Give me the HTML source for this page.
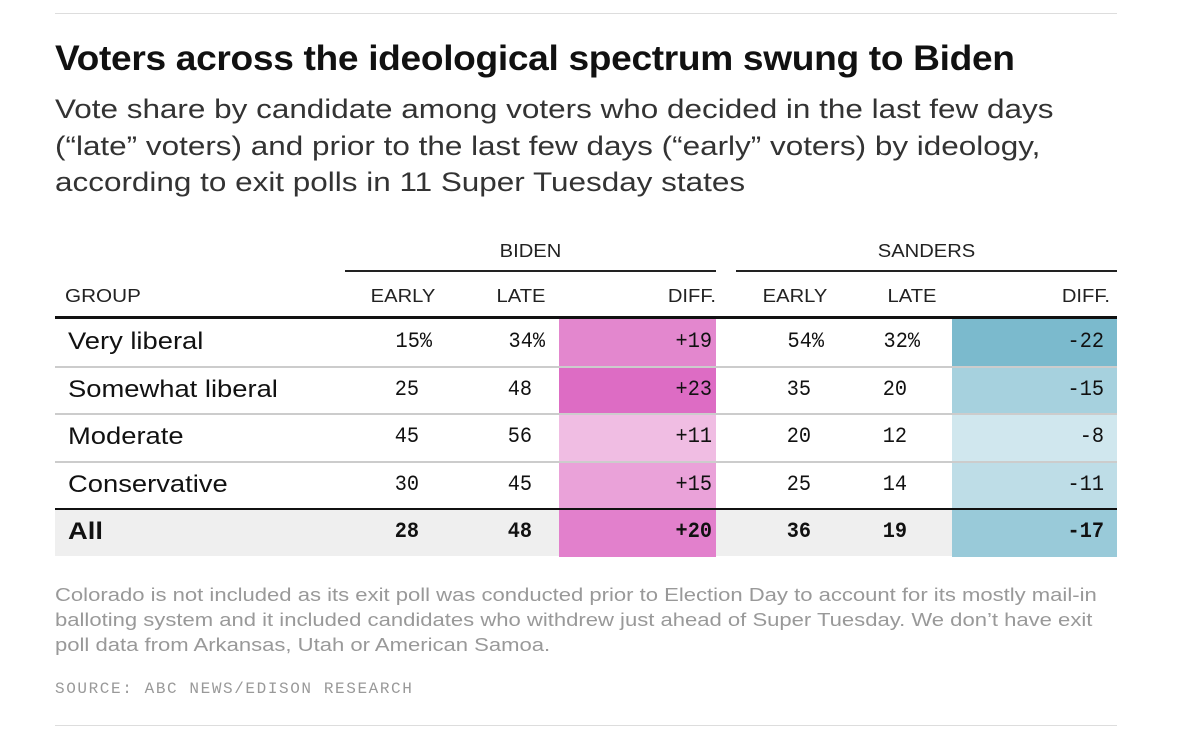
<!DOCTYPE html>
<html><head><meta charset="utf-8">
<style>
body{margin:0;width:1200px;height:741px;background:#fff;position:relative;overflow:hidden;font-family:"Liberation Sans",sans-serif;color:#222}
.a{position:absolute;white-space:nowrap}
.hr{position:absolute;height:1px}
.num{font-family:"Liberation Mono",monospace;font-size:22px;transform:scaleX(0.92);transform-origin:right center}
.hdr{font-size:18px;color:#222}
</style></head><body>
<div class="hr" style="left:55px;top:13px;width:1062px;background:#ddd"></div>
<div class="a" style="left:55px;top:39px;font-size:35px;font-weight:bold;color:#111;letter-spacing:-0.3px;transform:scaleX(1.06);transform-origin:left top">Voters across the ideological spectrum swung to Biden</div>
<div class="a" style="left:55px;top:91px;font-size:27px;line-height:36.5px;color:#333;transform:scaleX(1.165);transform-origin:left top">Vote share by candidate among voters who decided in the last few days<br>(“late” voters) and prior to the last few days (“early” voters) by ideology,<br>according to exit polls in 11 Super Tuesday states</div>

<div class="a hdr" style="left:345px;width:371px;text-align:center;top:241px;transform:scaleX(1.12)">BIDEN</div>
<div class="hr" style="left:345px;top:270px;width:371px;height:2px;background:#222"></div>
<div class="a hdr" style="left:736px;width:381px;text-align:center;top:241px;transform:scaleX(1.12)">SANDERS</div>
<div class="hr" style="left:736px;top:270px;width:381px;height:2px;background:#222"></div>

<div id="tbl"></div>
<div class="hr" style="left:55px;top:316px;width:1062px;height:3px;background:#111"></div>

<div class="a" style="left:55px;top:583px;font-size:18px;line-height:25px;color:#999;transform:scaleX(1.225);transform-origin:left top">Colorado is not included as its exit poll was conducted prior to Election Day to account for its mostly mail-in<br>balloting system and it included candidates who withdrew just ahead of Super Tuesday. We don’t have exit<br>poll data from Arkansas, Utah or American Samoa.</div>
<div class="a" style="left:55px;top:680px;font-family:'Liberation Mono',monospace;font-size:16px;letter-spacing:1.6px;color:#999">SOURCE: ABC NEWS/EDISON RESEARCH</div>
<div class="hr" style="left:55px;top:725px;width:1062px;background:#ddd"></div>

<script>
const groups=["Very liberal","Somewhat liberal","Moderate","Conservative","All"];
const bidenEarly=[15,25,45,30,28];
const bidenLate=[34,48,56,45,48];
const sandersEarly=[54,35,20,25,36];
const sandersLate=[32,20,12,14,19];
const colHeaders=["GROUP","EARLY","LATE","DIFF.","EARLY","LATE","DIFF."];

const T=document.getElementById('tbl');
function el(cls,css,txt){const d=document.createElement('div');d.className=cls;d.style.cssText=css;if(txt!==undefined)d.textContent=txt;T.appendChild(d);return d;}
const hx=[[65,'left'],[370,'c66'],[490,'c62'],[716,'right'],[760,'c70'],[880,'c64'],[1110,'right']];
colHeaders.forEach((h,i)=>{
  let css='top:286px;';
  const [x,al]=hx[i];
  if(al==='left')css+='left:'+x+'px;transform:scaleX(1.15);transform-origin:left center;';
  else if(al==='right')css+='left:'+(x-100)+'px;width:100px;text-align:right;transform:scaleX(1.12);transform-origin:right center;';
  else css+='left:'+x+'px;width:'+al.slice(1)+'px;text-align:center;transform:scaleX(1.12);';
  const d=el('a hdr',css,h);
  
  
});
function mix(a,b,t){t=Math.max(0,Math.min(1,t));return 'rgb('+a.map((v,k)=>Math.round(v+(b[k]-v)*t)).join(',')+')';}
function pink(v){return mix([240,189,227],[221,108,196],(v-11)/12);}
function blue(v){return mix([208,231,238],[123,186,205],(Math.abs(v)-8)/14);}
const rowTop=319,rowH=47.5;
groups.forEach((g,i)=>{
  const y=rowTop+i*rowH;
  const isAll=i===groups.length-1;
  if(isAll){const bg=el('a','left:55px;top:'+(y+1)+'px;width:1062px;height:'+(rowH-2)+'px;background:#efefef');}
  const bd=bidenLate[i]-bidenEarly[i], sd=sandersLate[i]-sandersEarly[i];
  const pc=el('a','left:559px;top:'+y+'px;width:157px;height:'+rowH+'px;background:'+pink(bd));
  
  
  const bc=el('a','left:952px;top:'+y+'px;width:165px;height:'+rowH+'px;background:'+blue(sd));
  
  
  if(i>0){
    const ln=el('hr','left:55px;top:'+(y-1)+'px;width:1062px;height:2px;background:'+(isAll?'#111':'#ccc'));
    
    
  }
  const fw=isAll?'bold':'normal';
  const lab=el('a','left:68px;top:'+(y+9)+'px;font-size:24px;font-weight:'+fw+';color:#111;transform:scaleX(1.14);transform-origin:left top',g);
  
  
  const pct=i===0?'%':'';
  const vals=[[bidenEarly[i]+pct,432],[bidenLate[i]+pct,545],[(bd>0?'+':'')+bd,712],[sandersEarly[i]+pct,824],[sandersLate[i]+pct,920],[(sd>0?'+':'-')+Math.abs(sd),1104]];
  vals.forEach(([t,x],j)=>{
    const adj=(i===0||j===2||j===5)?0:-13;
    const d=el('a num','left:'+(x+adj-100)+'px;width:100px;text-align:right;top:'+(y+10)+'px;font-weight:'+fw+';color:#111',t);
    
    
  });
});
</script>
</body></html>
